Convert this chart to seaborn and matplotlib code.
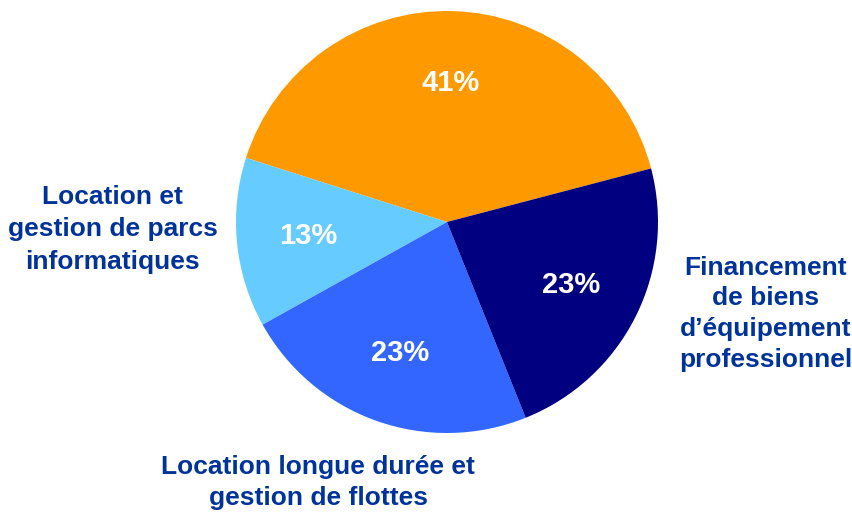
import matplotlib
matplotlib.use("Agg")
import matplotlib.pyplot as plt
import seaborn as sns

# données
categories = ["Autres", "Location et\ngestion de parcs\ninformatiques",
              "Location longue durée et\ngestion de flottes",
              "Financement\nde biens\nd\u2019équipement\nprofessionnel"]
parts = [41, 13, 23, 23]
couleurs = ["#FF9900", "#66CCFF", "#3366FF", "#000080"]
show_label = [False, True, True, True]
label_pos = [None, (-1.585, -0.035), (-0.61, -1.235), (1.51, -0.435)]
interligne = [None, 1.45, 1.38, 1.36]

sns.set_theme(style="white")
plt.rcParams["font.family"] = ["Liberation Sans", "DejaVu Sans"]

fig = plt.figure(figsize=(8.53, 5.12), dpi=100)
ax = fig.add_axes([0, 0, 1, 1])

wedges, _, autotexts = ax.pie(
    parts, colors=couleurs, startangle=14.7, counterclock=True,
    autopct="%d%%", pctdistance=0.66,
    wedgeprops=dict(linewidth=0),
    textprops=dict(color="white", fontsize=21, fontweight="bold"),
)

for cat, show, pos, ls in zip(categories, show_label, label_pos, interligne):
    if show:
        ax.text(pos[0], pos[1], cat, ha="center", va="center",
                color="#003399", fontsize=19, fontweight="bold",
                linespacing=ls)

ax.set_xlim(-447 / 211, 406 / 211)
ax.set_ylim(-290 / 211, 222 / 211)
ax.set_aspect("auto")
ax.axis("off")

fig.savefig("out.png", dpi=100)
